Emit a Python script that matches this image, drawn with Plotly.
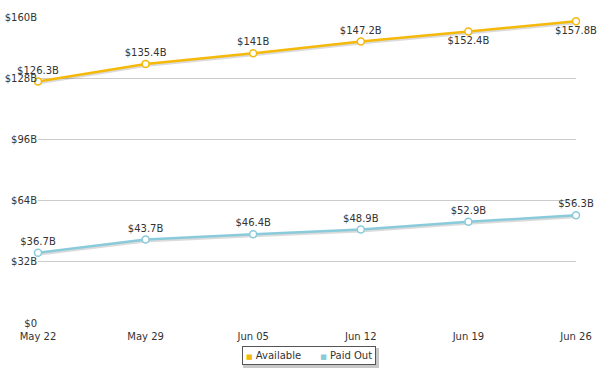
import plotly.graph_objects as go

dates = ["May 22", "May 29", "Jun 05", "Jun 12", "Jun 19", "Jun 26"]
available = [126.3, 135.4, 141.0, 147.2, 152.4, 157.8]
paid_out = [36.7, 43.7, 46.4, 48.9, 52.9, 56.3]
avail_labels = ["$126.3B", "$135.4B", "$141B", "$147.2B", "$152.4B", "$157.8B"]
paid_labels = ["$36.7B", "$43.7B", "$46.4B", "$48.9B", "$52.9B", "$56.3B"]
y_ticks = [0, 32, 64, 96, 128, 160]
y_tick_text = ["$0", "$32B", "$64B", "$96B", "$128B", "$160B"]
series_names = ["Available", "Paid Out"]

ORANGE = "#F5B90A"
BLUE = "#8ACBDB"
FONT = "DejaVu Sans"

fig = go.Figure()

# shadows (base axis, range shifted so the lines sit ~1.5px lower)
for vals in (available, paid_out):
    fig.add_trace(go.Scatter(x=dates, y=vals, mode="lines", yaxis="y",
                             line=dict(color="rgba(0,0,0,0.14)", width=3),
                             hoverinfo="skip", showlegend=False))

fig.add_trace(go.Scatter(
    x=dates, y=available, mode="lines+markers+text", yaxis="y2",
    text=avail_labels,
    textposition=["top center"] * 4 + ["bottom center"] * 2,
    textfont=dict(family=FONT, size=10, color="#333"),
    line=dict(color=ORANGE, width=2.5),
    marker=dict(size=7, color="white", line=dict(color=ORANGE, width=1.5)),
    cliponaxis=False, showlegend=False, name=series_names[0]))
fig.add_trace(go.Scatter(
    x=dates, y=paid_out, mode="lines+markers+text", yaxis="y2",
    text=paid_labels, textposition="top center",
    textfont=dict(family=FONT, size=10, color="#333"),
    line=dict(color=BLUE, width=2.5),
    marker=dict(size=7, color="white", line=dict(color=BLUE, width=1.5)),
    cliponaxis=False, showlegend=False, name=series_names[1]))

gap = "&nbsp;" * 6
legend_text = (f"<span style='color:{ORANGE};font-size:7px'>■</span>&nbsp;{series_names[0]}"
               f"{gap}<span style='color:{BLUE};font-size:7px'>■</span>&nbsp;{series_names[1]}")


def px_x(p):
    return (p - 38) / 538


def px_y(p):
    return (323 - p) / 306


# legend drop shadow
fig.add_shape(type="rect", xref="paper", yref="paper",
              x0=px_x(243), x1=px_x(379), y0=px_y(348), y1=px_y(368),
              fillcolor="#c8c8c8", line=dict(width=0), layer="above")
fig.add_annotation(text=legend_text, bgcolor="white", bordercolor="#555",
                   xref="paper", yref="paper", x=px_x(309), y=px_y(355),
                   xanchor="center", yanchor="middle", showarrow=False,
                   font=dict(family=FONT, size=10, color="#333"),
                   borderpad=3, borderwidth=1)

fig.update_layout(
    width=600, height=372,
    margin=dict(l=38, r=24, t=17, b=49, autoexpand=False),
    paper_bgcolor="white", plot_bgcolor="white",
    font=dict(family=FONT, size=10, color="#333"),
    xaxis=dict(type="category", range=[0, 5], showgrid=False, zeroline=False,
               showline=False, ticks="", automargin=False, ticklabelstandoff=6,
               tickfont=dict(family=FONT, size=10, color="#333")),
    yaxis=dict(range=[0.8, 160.8], visible=False, showgrid=False, zeroline=False,
               automargin=False),
    yaxis2=dict(range=[0, 160], overlaying="y", side="left", tickvals=y_ticks,
                ticktext=y_tick_text, showgrid=True, gridcolor="#cccccc",
                zeroline=False, showline=False, ticks="", automargin=False,
                tickfont=dict(family=FONT, size=10, color="#333")),
    showlegend=False,
)

fig.write_html("out.html", config={"displayModeBar": False},
               post_script="document.body.style.margin='0';document.body.style.overflow='hidden';")
